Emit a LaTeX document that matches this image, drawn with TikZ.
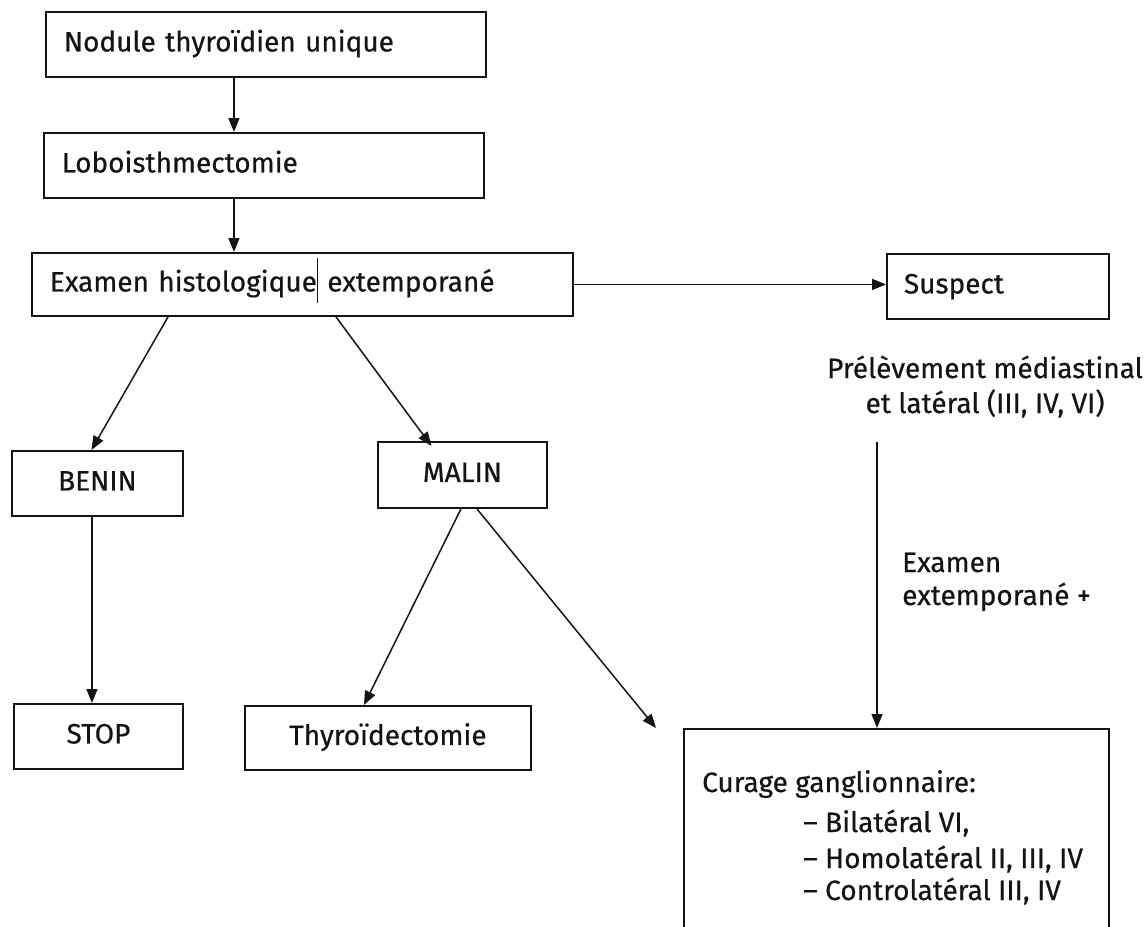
\documentclass[tikz,border=0pt]{standalone}
\usepackage{fontspec}
\setmainfont{Fira Sans}[FakeBold=0.5]
\usetikzlibrary{arrows.meta}
\definecolor{ink}{HTML}{141414}
\begin{document}
\begin{tikzpicture}[x=1pt,y=-1pt,
  every node/.style={font=\fontsize{28pt}{34pt}\selectfont, text=ink},
  box/.style={draw=ink, line width=1.9pt, rectangle, anchor=north west,
              text height=21pt, text depth=7pt},
  lbox/.style={box, align=left, inner xsep=18pt},
  cbox/.style={box, align=center, inner xsep=0pt},
  word/.style={inner sep=0pt},
  arr/.style={draw=ink, line width=1.5pt, -{Triangle[length=14pt,width=11pt]}}
]
\fill[white] (0,0) rectangle (1147,926);
\useasboundingbox (0,0) rectangle (1147,926);

% main column
\node[lbox, minimum width=440, minimum height=65, text width=404] (b1) at (45,11) {Nodule thyroïdien unique};
\node[lbox, minimum width=440, minimum height=65, text width=404] (b2) at (43,132) {Loboisthmectomie};
\node[lbox, minimum width=541, minimum height=63, text width=505] (b3) at (31,252)
  {Examen histologique\rule[-12pt]{1.1pt}{45pt} extemporané};
\node[lbox, minimum width=222, minimum height=65, text width=188, inner xsep=17pt] (susp) at (886,253) {Suspect};

% outcomes
\node[cbox, minimum width=171, minimum height=65] (benin) at (11,450) {BENIN};
\node[cbox, minimum width=169, minimum height=66] (malin) at (377,441) {MALIN};
\node[cbox, minimum width=169, minimum height=65] (stop) at (13,703) {STOP};
\node[cbox, minimum width=286, minimum height=64] (thyro) at (244,705) {Thyroïdectomie};

% lymph node dissection box (runs past the lower edge)
\node[box, minimum width=425, minimum height=220] (curage) at (683,728) {};
\node[word, anchor=base west] (cur0) at (702,792) {Curage ganglionnaire:};
\node[word, anchor=base west] (cur1) at (803,832) {– Bilatéral VI,};
\node[word, anchor=base west] (cur2) at (803,868) {– Homolatéral II, III, IV};
\node[word, anchor=base west] (cur3) at (803,900) {– Controlatéral III, IV};

% free labels
\node[word, anchor=base] (prelA) at (985,378) {Prélèvement médiastinal};
\node[word, anchor=base] (prelB) at (985,413) {et latéral (III, IV, VI)};
\node[word, anchor=base west] (examA) at (902,572) {Examen};
\node[word, anchor=base west] (examB) at (902,605) {extemporané +};

% connectors
\draw[arr] ([xshift=-32pt]b1.south) -- ([xshift=-30pt]b2.north);
\draw[arr] ([xshift=-30pt]b2.south) -- ([xshift=-68.5pt]b3.north);
\draw[arr] (b3.east) -- (susp.west |- b3.east);
\draw[arr] ([xshift=137pt]b3.south west) -- ([xshift=-6pt]benin.north);
\draw[arr] ([xshift=305pt]b3.south west) -- ([xshift=-31pt,yshift=-5pt]malin.north);
\draw[arr] ([xshift=-5.5pt]benin.south) -- ([xshift=-5.5pt]benin.south |- stop.north);
\draw[arr] ([xshift=-1.5pt]malin.south) -- ([xshift=-24pt]thyro.north);
\coordinate (mcEnd) at ([xshift=-27pt]curage.north west);
\draw[arr] ([xshift=14.5pt]malin.south) -- (mcEnd);
\coordinate (pStart) at (877,442);
\draw[arr] (pStart) -- (pStart |- curage.north);
\end{tikzpicture}
\end{document}
